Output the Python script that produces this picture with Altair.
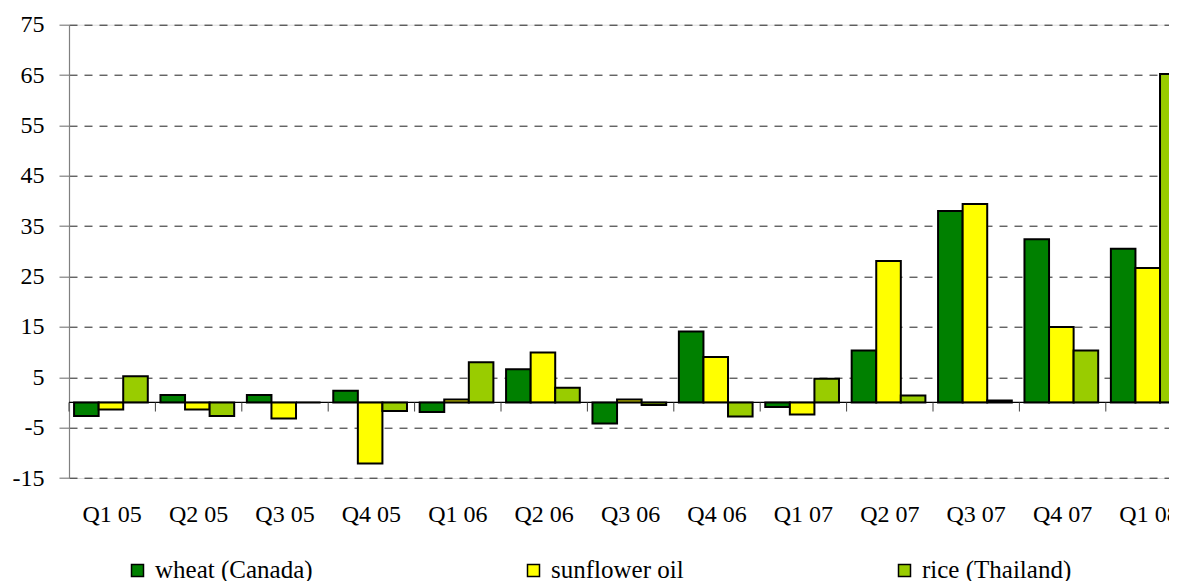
import altair as alt
import pandas as pd

FONT = "Liberation Serif"

quarters = ["Q1 05", "Q2 05", "Q3 05", "Q4 05", "Q1 06", "Q2 06", "Q3 06",
            "Q4 06", "Q1 07", "Q2 07", "Q3 07", "Q4 07", "Q1 08"]
series = ["wheat (Canada)", "sunflower oil", "rice (Thailand)"]
wheat = [-2.7, 1.5, 1.5, 2.3, -1.9, 6.6, -4.2, 14.1, -0.9, 10.3, 38.0, 32.4, 30.5]
sunflower = [-1.4, -1.4, -3.2, -12.1, 0.6, 9.9, 0.6, 9.0, -2.4, 28.1, 39.4, 15.0, 26.7]
rice = [5.2, -2.7, 0.0, -1.7, 8.0, 2.9, -0.5, -2.8, 4.7, 1.4, 0.4, 10.3, 65.2]
colors = ["#008000", "#FFFF00", "#99CC00"]
y_ticks = [-15, -5, 5, 15, 25, 35, 45, 55, 65, 75]

rows = []
for i, q in enumerate(quarters):
    for s, vals in zip(series, [wheat, sunflower, rice]):
        rows.append({"quarter": q, "series": s, "value": vals[i]})
df = pd.DataFrame(rows)
df_q = pd.DataFrame({"quarter": quarters})

STEP = 86.4
x_scale = alt.Scale(domain=quarters, range=[0, STEP * len(quarters)],
                    paddingInner=0, paddingOuter=0)
y_scale = alt.Scale(domain=[-15, 75], nice=False, zero=False)

bars = alt.Chart(df).mark_bar(stroke="black", strokeWidth=2).encode(
    x=alt.X("quarter:N", sort=quarters, scale=x_scale,
            axis=alt.Axis(title=None, labelAngle=0, domain=False, ticks=False,
                          grid=False, labelFont=FONT, labelFontSize=24,
                          labelColor="black", labelPadding=24)),
    xOffset=alt.XOffset("series:N", sort=series,
                        scale=alt.Scale(paddingInner=0, paddingOuter=0.258, align=0.4)),
    y=alt.Y("value:Q", scale=y_scale,
            axis=alt.Axis(values=y_ticks, title=None, grid=True,
                          labelExpr="'' + datum.value",
                          gridDash=[8, 7], gridColor="#202020", gridWidth=1,
                          domainColor="#808080", domainWidth=1.2,
                          tickColor="#808080", tickSize=10, tickWidth=1.2,
                          labelFont=FONT, labelFontSize=24, labelColor="black",
                          labelPadding=15)),
    color=alt.Color("series:N", sort=series,
                    scale=alt.Scale(domain=series, range=colors),
                    legend=alt.Legend(title=None, orient="none", legendX=56, legendY=533,
                                      direction="horizontal", columnPadding=208,
                                      symbolType="square", symbolSize=144,
                                      symbolStrokeColor="black", symbolStrokeWidth=1.5,
                                      labelFont=FONT, labelFontSize=25,
                                      labelColor="black", labelOffset=5, padding=0)),
)

zero_line = alt.Chart(df_q.head(1)).mark_rule(color="black", strokeWidth=1.2).encode(
    y=alt.datum(0)
)

ticks = alt.Chart(df_q).mark_rule(color="#404040", strokeWidth=1).encode(
    x=alt.X("quarter:N", sort=quarters, bandPosition=0),
    y=alt.datum(0),
    y2=alt.datum(-1.8),
)

chart = alt.layer(bars, zero_line, ticks).properties(
    width=1100,
    height=453.3,
    autosize=alt.AutoSizeParams(type="none"),
    padding={"left": 61, "top": 16.7, "right": 0, "bottom": 103},
).configure_view(strokeWidth=0).configure(background="white")

chart.save("out.html", embed_options={"renderer": "svg", "actions": False})
